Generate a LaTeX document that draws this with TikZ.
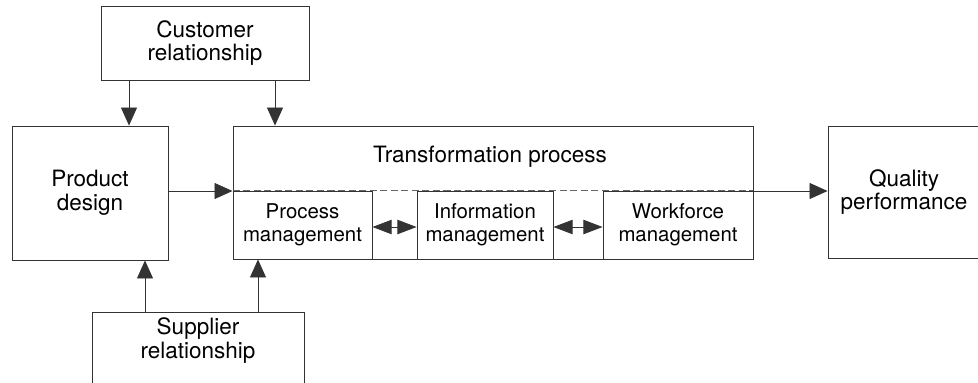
\documentclass[tikz,border=0pt]{standalone}
\usepackage{fontspec}
\setmainfont{TeX Gyre Heros}
\usetikzlibrary{arrows.meta}

\begin{document}
\begin{tikzpicture}[x=0.025cm, y=-0.025cm,
    box/.style={draw=black!80, line width=0.6pt, inner sep=0pt, align=center,
        font=\fontsize{16}{17}\selectfont},
    sub/.style={box, minimum height=1.7cm, font=\fontsize{14.5}{16}\selectfont},
    lbl/.style={inner sep=0pt, font=\fontsize{16}{17}\selectfont},
    arr/.style={draw=black!80, line width=0.6pt, -{Triangle[length=0.45cm, width=0.4cm]}},
    dbl/.style={arr, {Triangle[length=0.48cm, width=0.36cm]}-{Triangle[length=0.48cm, width=0.36cm]}}]
        \useasboundingbox (0,0) rectangle (978,382);

        % outer boxes
        \node[box, minimum width=5.2cm, minimum height=1.85cm] (cust) at (205,43) {Customer\\relationship};
        \node[box, minimum width=3.9cm, minimum height=3.35cm] (prod) at (90,193) {Product\\design};
        \node[box, minimum width=13cm, minimum height=3.325cm] (trans) at (493,192.5) {};
        \node[box, minimum width=3.8cm, minimum height=3.3cm] (qual) at (904,192) {Quality\\performance};
        \node[box, minimum width=5.3cm, minimum height=2.2cm] (sup) at (198,356)
            {\raisebox{0.2cm}[0pt][0pt]{\begin{tabular}{@{}c@{}}Supplier\\relationship\end{tabular}}};

        \node[lbl] (tlab) at (490,157) {Transformation process};

        % parts of the transformation process
        \node[sub, minimum width=3.475cm] (proc) at (302.5,225) {Process\\management};
        \node[sub, minimum width=3.4cm] (info) at (485,225) {Information\\management};
        \node[sub, minimum width=3.75cm] (work) at (678,225) {Workforce\\management};
        \draw[draw=black!60, line width=0.5pt, dash pattern=on 5pt off 2.5pt] (proc.north west) -- (work.north east);

        \coordinate (ym) at (0,191);
        \coordinate (c1) at (129,0);
        \coordinate (c2) at (275,0);
        \coordinate (s1) at (145,0);
        \coordinate (s2) at (258,0);

        \draw[arr] (cust.south -| c1) -- (prod.north -| c1);
        \draw[arr] (cust.south -| c2) -- (trans.north -| c2);
        \draw[arr] (sup.north -| s1) -- (prod.south -| s1);
        \draw[arr] (sup.north -| s2) -- (trans.south -| s2);
        \draw[arr] (prod.east |- ym) -- (trans.west |- ym);
        \draw[arr] (trans.east |- ym) -- (qual.west |- ym);
        \draw[dbl] ([yshift=-0.05cm]proc.east) -- ([yshift=-0.05cm]info.west);
        \draw[dbl] ([yshift=-0.05cm]info.east) -- ([yshift=-0.05cm]work.west);

\end{tikzpicture}
\end{document}
